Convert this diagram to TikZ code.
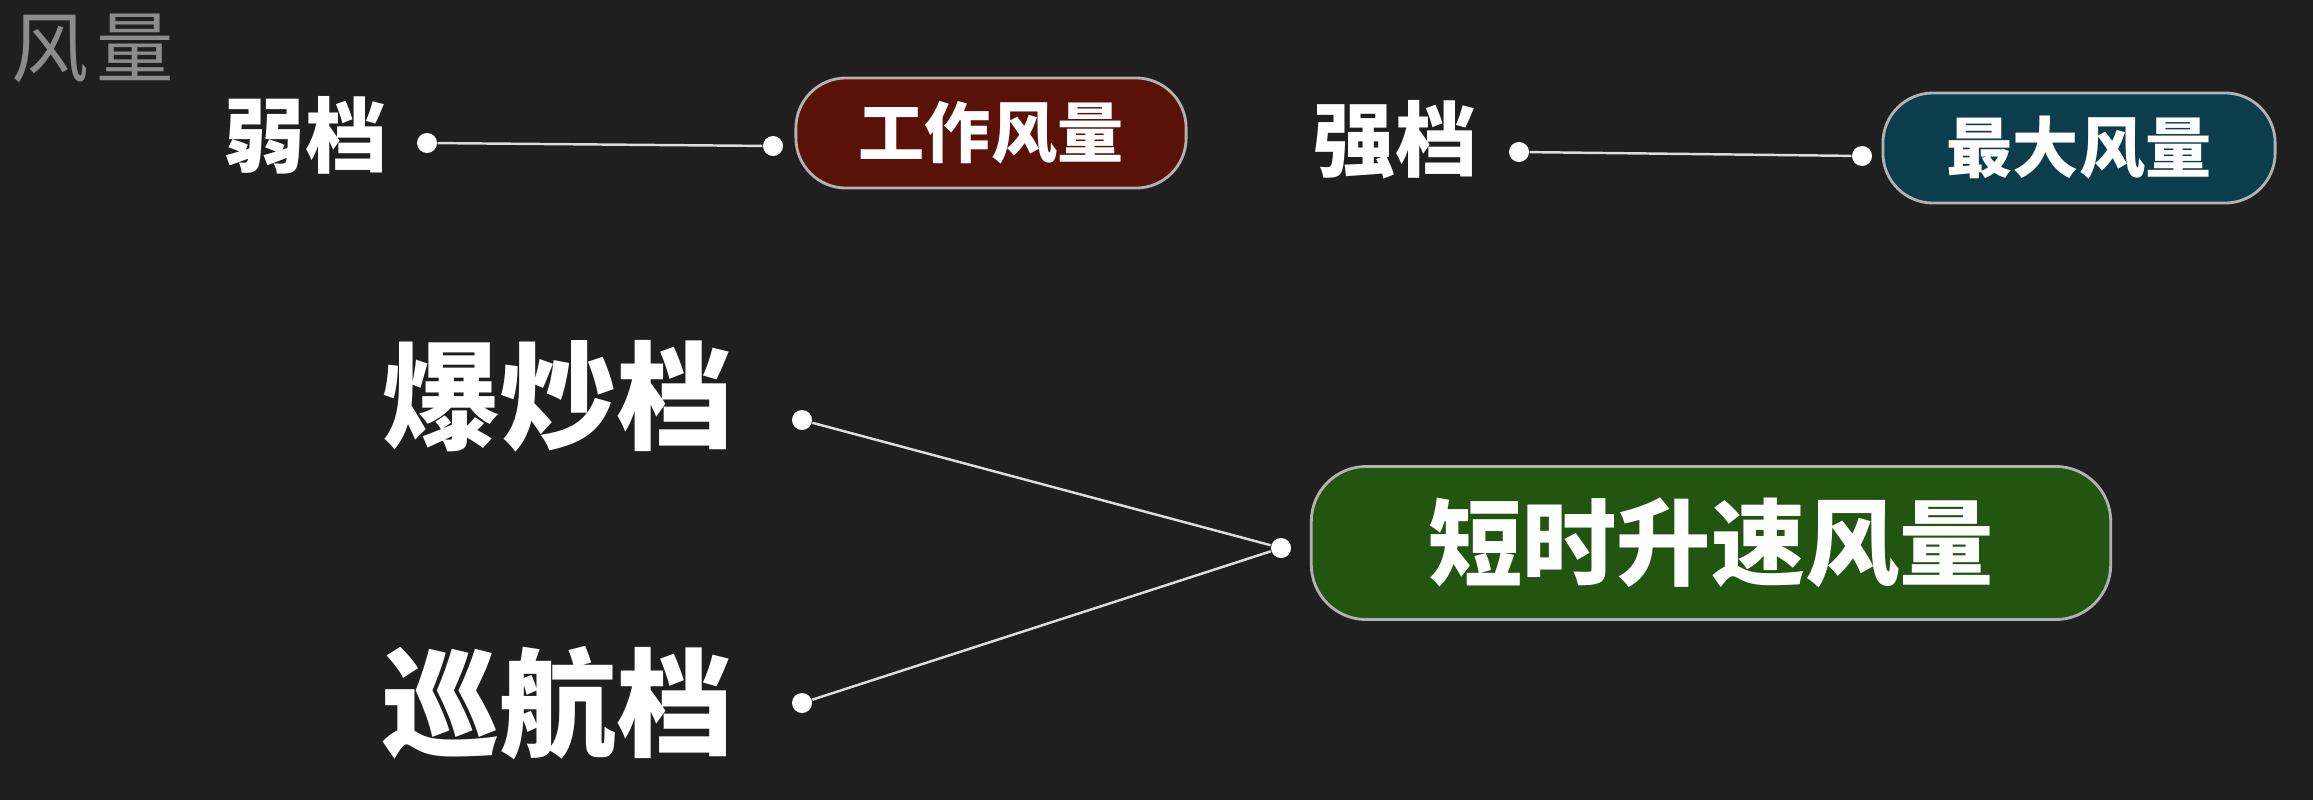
\documentclass[tikz,border=0pt]{standalone}
\usepackage{fontspec}
\newfontfamily\cjk{Noto Sans CJK SC}
\definecolor{bgdark}{HTML}{1F1F1F}
\definecolor{workred}{HTML}{5A1208}
\definecolor{maxteal}{HTML}{0C3D4C}
\definecolor{boostgreen}{HTML}{215510}
\definecolor{wirewhite}{HTML}{DDDDDD}
\begin{document}
\begin{tikzpicture}[x=0.01cm, y=-0.01cm,
  gear/.style={text=white, font=\cjk\bfseries\fontsize{#1}{#1}\selectfont, inner sep=0pt},
  airbox/.style={draw=gray!60!white, line width=0.8pt, rounded corners=0.5cm, text=white, font=\cjk\bfseries\fontsize{#1}{#1}\selectfont},
  solder/.style={circle, fill=white, inner sep=0pt, minimum size=0.2cm},
  wire/.style={draw=wirewhite, line width=0.7pt}]
\useasboundingbox (0,0) rectangle (2313,800);
\fill [bgdark] (0,0) rectangle (2313,800);

\node [text=gray!90, font=\cjk\fontsize{22pt}{22pt}\selectfont, inner sep=0pt] (title) at (93,48) {风\hspace{0.1em}量};

\node [gear=23.3pt] (weak) at (305,135) {弱档};
\node [gear=23.3pt] (strong) at (1395,140) {强档};
\node [gear=33.3pt] (stir) at (558,396) {爆炒档};
\node [gear=33.3pt] (cruise) at (558,703) {巡航档};

\node [airbox=18.8pt, fill=workred, minimum width=3.9cm, minimum height=1.1cm] (work) at (991,133) {工作风量};
\node [airbox=18.8pt, fill=maxteal, minimum width=3.92cm, minimum height=1.1cm] (max) at (2079,148) {最大风量};
\node [airbox=26.8pt, fill=boostgreen, minimum width=7.99cm, minimum height=1.53cm, rounded corners=0.55cm] (boost) at (1711,543) {短时升速风量};

\node [solder] (weakpin) at (427,143) {};
\node [solder] (workpin) at (773,146) {};
\node [solder] (strongpin) at (1519,152) {};
\node [solder] (maxpin) at (1862,156) {};
\node [solder] (stirpin) at (802,420) {};
\node [solder] (cruisepin) at (802,703) {};
\node [solder] (boostpin) at (1281,548) {};

\draw [wire] (weakpin) -- (workpin);
\draw [wire] (strongpin) -- (maxpin);
\draw [wire] (stirpin) -- (boostpin);
\draw [wire] (cruisepin) -- (boostpin);
\end{tikzpicture}
\end{document}
